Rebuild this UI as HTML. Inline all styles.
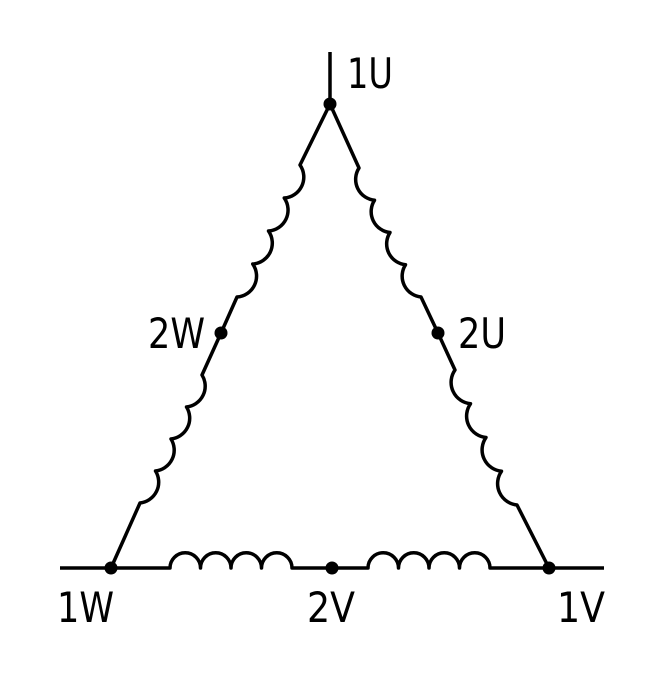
<!DOCTYPE html>
<html><head><style>html,body{margin:0;padding:0;background:#fff}svg{display:block}</style></head>
<body>
<svg width="654" height="688" viewBox="0 0 654 688" xmlns="http://www.w3.org/2000/svg">
<g fill="none" stroke="#000" stroke-width="3.5" stroke-linejoin="round">
<path d="M330 52 V104"/>
<path d="M60 568 H170 A15.25 15.25 0 0 1 200.5 568 A15.25 15.25 0 0 1 231 568 A15.25 15.25 0 0 1 261.5 568 A15.25 15.25 0 0 1 292 568 H368 A15.25 15.25 0 0 1 398.5 568 A15.25 15.25 0 0 1 429 568 A15.25 15.25 0 0 1 459.5 568 A15.25 15.25 0 0 1 490 568 H604"/>
<path d="M330 104 L359 168 A21 21 0 0 0 374.5 200.25 A21 21 0 0 0 390 232.5 A21 21 0 0 0 405.5 264.75 A21 21 0 0 0 421 297 L438 333 L455 370 A21.5 21.5 0 0 0 470.5 403.75 A21.5 21.5 0 0 0 486 437.5 A21.5 21.5 0 0 0 501.5 471.25 A21.5 21.5 0 0 0 517 505 L549 568"/>
<path d="M330 104 L300 165 A21 21 0 0 1 284.25 198 A21 21 0 0 1 268.5 231 A21 21 0 0 1 252.75 264 A21 21 0 0 1 237 297 L221 333 L202 375 A21 21 0 0 1 186.5 407 A21 21 0 0 1 171 439 A21 21 0 0 1 155.5 471 A21 21 0 0 1 140 503 L111 568"/>
</g>
<g fill="#000">
<circle cx="330" cy="104" r="6.5"/><circle cx="111" cy="568" r="6.5"/><circle cx="549" cy="568" r="6.5"/>
<circle cx="221" cy="333" r="6.5"/><circle cx="438" cy="333" r="6.5"/><circle cx="332" cy="568" r="6.5"/>
</g>
<g font-family="DejaVu Sans, Liberation Sans, sans-serif" font-size="42" fill="#000">
<text x="347" y="88" textLength="46" lengthAdjust="spacingAndGlyphs">1U</text>
<text x="148" y="348" textLength="57" lengthAdjust="spacingAndGlyphs">2W</text>
<text x="458" y="348" textLength="48" lengthAdjust="spacingAndGlyphs">2U</text>
<text x="57" y="622" textLength="57" lengthAdjust="spacingAndGlyphs">1W</text>
<text x="307" y="622" textLength="48" lengthAdjust="spacingAndGlyphs">2V</text>
<text x="557" y="622" textLength="48" lengthAdjust="spacingAndGlyphs">1V</text>
</g>
</svg>
</body></html>
